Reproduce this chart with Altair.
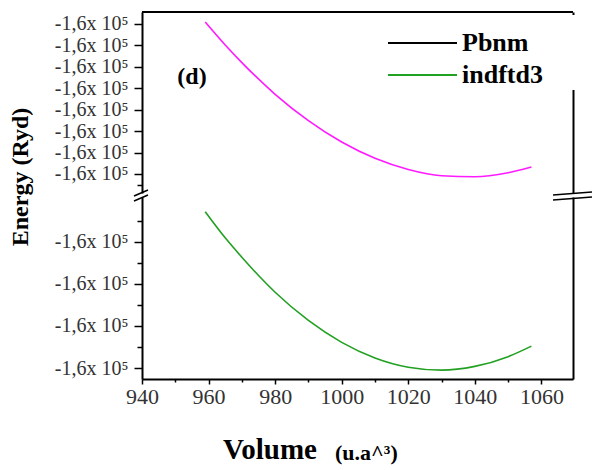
import altair as alt
import pandas as pd

# ---- data ----
volume = [959, 965, 970, 980, 990, 1000, 1010, 1020, 1030, 1040, 1050, 1057]
# relative energies (arbitrary units of each broken-axis panel)
energy_pbnm = [7.09, 6.02, 5.20, 3.72, 2.49, 1.49, 0.73, 0.21, -0.08, -0.13, 0.06, 0.33]
energy_indftd3 = [3.71, 3.09, 2.63, 1.80, 1.13, 0.61, 0.24, 0.02, -0.05, 0.04, 0.27, 0.52]
x_ticks = [940, 950, 960, 970, 980, 990, 1000, 1010, 1020, 1030, 1040, 1050, 1060]
upper_ticks = [-0.5, 0, 1, 2, 3, 4, 5, 6, 7]
lower_ticks = [0, 0.5, 1, 1.5, 2, 2.5, 3, 3.5]
y_label = "-1,6x 10⁵"
legend_labels = ["Pbnm", "indftd3"]
panel_label = "(d)"
y_title = "Energy (Ryd)"
x_title_main = "Volume"
x_title_unit = "(u.a^³)"

SERIF = "Liberation Serif"
W, H = 431, 367
MAGENTA = "#ff1aff"
GREEN = "#22a022"

df_up = pd.DataFrame({"volume": volume, "energy": energy_pbnm})
df_lo = pd.DataFrame({"volume": volume, "energy": energy_indftd3})
one = pd.DataFrame({"k": [0]})

x_enc = alt.X(
    "volume:Q",
    scale=alt.Scale(domain=[940, 1069.5], nice=False, zero=False),
    axis=alt.Axis(
        orient="bottom", values=x_ticks, title=None, grid=False,
        labelExpr="datum.value % 20 === 0 ? '' + datum.value : ''",
        labelFont=SERIF, labelFontSize=22, labelColor="#333333", labelPadding=2,
        tickSize={"condition": {"test": "datum.value % 20 === 0", "value": 5}, "value": 3},
        tickColor="black", tickWidth=1.5, domainColor="black", domainWidth=2,
        labelFlush=False, labelOverlap=False,
    ),
)

up_scale = alt.Scale(domain=[-0.887, 7.56], range=[181, 0], nice=False, zero=False)
lo_scale = alt.Scale(domain=[-0.26, 4.06], range=[367, 185], nice=False, zero=False)


def left_axis(vals):
    return alt.Axis(
        orient="left", values=vals, title=None, grid=False,
        labelExpr=f"datum.value % 1 === 0 ? '{y_label}' : ''",
        labelFont=SERIF, labelFontSize=20, labelColor="#333333", labelPadding=6,
        tickSize={"condition": {"test": "datum.value % 1 === 0", "value": 8}, "value": 5},
        tickColor="black", tickWidth=1.5, domainColor="black", domainWidth=2,
        labelOverlap=False, labelFlush=False,
    )


right_axis = alt.Axis(orient="right", labels=False, ticks=False, grid=False, title=None,
                      domainColor="black", domainWidth=2)

up_line = alt.Chart(df_up).mark_line(color=MAGENTA, strokeWidth=1.6, interpolate="monotone").encode(
    x=x_enc, y=alt.Y("energy:Q", scale=up_scale, axis=left_axis(upper_ticks)))
up_right = alt.Chart(df_up).mark_line(opacity=0).encode(
    x=x_enc, y=alt.Y("energy:Q", scale=up_scale, axis=right_axis))
lo_line = alt.Chart(df_lo).mark_line(color=GREEN, strokeWidth=1.6, interpolate="monotone").encode(
    x=x_enc, y=alt.Y("energy:Q", scale=lo_scale, axis=left_axis(lower_ticks)))
lo_right = alt.Chart(df_lo).mark_line(opacity=0).encode(
    x=x_enc, y=alt.Y("energy:Q", scale=lo_scale, axis=right_axis))


def rule(x1, y1, x2, y2, color="black", w=1.5):
    return alt.Chart(one).mark_rule(color=color, strokeWidth=w).encode(
        x=alt.value(x1), y=alt.value(y1), x2=alt.value(x2), y2=alt.value(y2))


def text(t, x, y, size, weight="bold", align="left", baseline="alphabetic", angle=0, color="black"):
    return alt.Chart(pd.DataFrame({"t": [t]})).mark_text(
        font=SERIF, fontSize=size, fontWeight=weight, align=align, baseline=baseline,
        angle=angle, color=color).encode(text="t:N", x=alt.value(x), y=alt.value(y))


top_border = rule(0, 0, W, 0, w=2)
legend_bg = alt.Chart(one).mark_rect(color="white").encode(
    x=alt.value(240), x2=alt.value(436), y=alt.value(3), y2=alt.value(78))

layers = [
    up_line, up_right, lo_line, lo_right,
    top_border, legend_bg,
    rule(246, 31, 315, 31, color="black", w=1.8),
    rule(246, 63, 315, 63, color=GREEN, w=1.8),
    text(legend_labels[0], 320, 31, 26, baseline="middle"),
    text(legend_labels[1], 320, 63, 26, baseline="middle"),
    text(panel_label, 50, 65, 24, align="center", baseline="middle"),
    text(y_title, -121, 165, 24, align="center", baseline="middle", angle=270),
    text(x_title_main, 81, 447, 29),
    text(x_title_unit, 193, 448, 22),
    # axis-break marks
    rule(-8, 184, 6, 178, w=1.5),
    rule(-8, 189, 6, 183, w=1.5),
    rule(411, 183, 450, 180, w=1.5),
    rule(411, 188, 450, 185, w=1.5),
]

chart = alt.layer(*layers).resolve_scale(y="independent").properties(
    width=W, height=H,
    autosize=alt.AutoSizeParams(type="none"),
    padding={"left": 142, "top": 12, "right": 19, "bottom": 91},
).configure_view(stroke=None)

chart.save("out.html", embed_options={"renderer": "svg", "actions": False})
